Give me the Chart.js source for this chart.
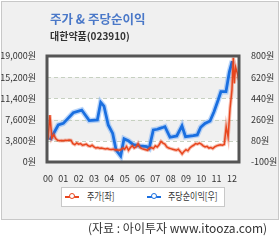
<!DOCTYPE html>
<html><head><meta charset="utf-8">
<script src="https://cdn.jsdelivr.net/npm/chart.js@4"></script>
<style>
body{margin:0;width:280px;height:242px;background:#fff;position:relative;overflow:hidden;font-family:"Noto Sans CJK KR","Noto Sans",sans-serif}
#panel{position:absolute;left:1px;top:1px;width:276px;height:217px;background:#f0f0f0;border:1px solid #c8c8c8}
canvas{position:absolute;left:0;top:0}
.t{position:absolute;white-space:nowrap;line-height:1}
#legend{position:absolute;left:61px;top:187px;width:162px;height:18px;background:#fff;border:1px solid #c8c8c8}
.li{position:absolute;top:3px;font-size:10px;color:#333;line-height:1;white-space:nowrap;transform:scaleX(0.8);transform-origin:0 0}
.ic{position:absolute;top:8px;width:14px;height:2px}
.ic i{position:absolute;left:4px;top:-3px;width:4px;height:4px;border-radius:50%;background:#fff;border:1.5px solid}
</style></head><body>
<div id="panel"></div>
<canvas id="c" width="280" height="242"></canvas>
<div class="t" style="left:50px;top:13px;font-size:12.5px;font-weight:bold;color:#4a78c8">주가 &amp; 주당순이익</div>
<div class="t" style="left:50px;top:31px;font-size:10px;font-weight:bold;color:#333">대한약품(023910)</div>
<div id="legend">
  <div class="ic" style="left:3px;background:#e8461e"><i style="border-color:#e8461e"></i></div>
  <div class="li" style="left:25px">주가[좌]</div>
  <div class="ic" style="left:85px;background:#1a6fe0"><i style="border-color:#1a6fe0"></i></div>
  <div class="li" style="left:106px">주당순이익[우]</div>
</div>
<div class="t" style="left:88px;top:222px;font-size:12px;color:#333">(자료 : 아이투자 www.itooza.com)</div>
<script>
// years since 2000
const xTickLabels = ["00","01","02","03","04","05","06","07","08","09","10","11","12"];
const priceT = [0,0.125,0.25,0.375,0.5,0.625,0.75,0.875,1,1.125,1.25,1.375,1.5,1.625,1.75,1.875,
2,2.125,2.25,2.375,2.5,2.625,2.75,2.875,3,3.125,3.25,3.375,3.5,3.625,3.75,3.875,
4,4.125,4.25,4.375,4.5,4.625,4.75,4.875,5,5.125,5.25,5.375,5.5,5.625,5.75,5.875,
6,6.125,6.25,6.375,6.5,6.625,6.75,6.875,7,7.125,7.25,7.375,7.5,7.625,7.75,7.875,
8,8.125,8.25,8.375,8.5,8.625,8.75,8.875,9,9.125,9.25,9.375,9.5,9.625,9.75,9.875,
10,10.125,10.25,10.375,10.5,10.625,10.75,10.875,11,11.125,11.25,11.375,11.5,11.625,11.75,11.875,
12,12.09,12.15,12.24,12.35,12.45];
const priceValues = [4000,8400,4300,4900,4200,3900,3800,3850,3800,3900,3850,3950,3900,3300,3100,3400,
3200,3300,3000,3100,3200,2900,2800,3000,2700,2500,2600,2450,2500,2400,2350,2400,
2300,2250,2300,2150,2200,2100,2200,2500,2300,2800,2100,2600,2900,2500,2700,3300,
2600,2400,2300,2200,2100,2500,2600,2400,2900,2700,3100,3700,3400,3200,2700,2500,
2400,2300,2200,2100,2300,1900,1450,1900,2200,2000,2500,2800,3000,3300,3200,3400,
3200,2900,2700,2800,2500,2600,2400,2700,2900,3000,3100,3000,3150,6300,4500,9600,
12900,18700,14100,17000,15900,14700];
const epsT = [0.13,0.67,1.0,1.65,2.2,2.69,3.22,3.44,3.65,3.93,4.22,4.44,4.74,4.96,5.24,5.56,6.0,6.44,6.6,6.87,7.13,7.3,7.52,7.63,7.96,8.4,8.74,8.97,9.48,9.74,9.96,10.24,10.57,10.83,11.1,11.28,11.61,11.83,12.02];
const epsValues = [87,214,228,318,341,251,257,407,375,214,143,2,-49,98,81,47,36,30,16,172,178,186,195,200,110,121,206,115,124,130,195,228,248,327,426,497,497,663,757];
const leftTicks = [0,3800,7600,11400,15200,19000];
const rightTicks = [-100,80,260,440,620,800];

const pricePts = priceT.map((t,i)=>({x:t,y:priceValues[i]}));
const epsPts = epsT.map((t,i)=>({x:t,y:epsValues[i]}));

const frame = {
  id:'frame',
  beforeDatasetsDraw(ch){
    const {ctx, chartArea:a, scales} = ch; const y = scales.y;
    ctx.save();
    ctx.fillStyle='#fff'; ctx.fillRect(a.left,a.top,a.right-a.left,a.bottom-a.top);
    ctx.fillStyle='#f0f0f0';
    [[3800,7600],[11400,15200]].forEach(([lo,hi])=>{
      const y1=y.getPixelForValue(hi), y2=y.getPixelForValue(lo);
      ctx.fillRect(a.left,y1,a.right-a.left,y2-y1);
    });
    ctx.strokeStyle='#c6d0c0'; ctx.lineWidth=1; ctx.setLineDash([4,3]);
    leftTicks.slice(1,-1).forEach(v=>{
      const py=Math.round(y.getPixelForValue(v))+0.5;
      ctx.beginPath(); ctx.moveTo(a.left,py); ctx.lineTo(a.right,py); ctx.stroke();
    });
    ctx.restore();
  },
  afterDatasetsDraw(ch){
    const {ctx, chartArea:a} = ch;
    ctx.save(); ctx.strokeStyle='#555'; ctx.lineWidth=3;
    ctx.strokeRect(a.left,a.top,a.right-a.left,a.bottom-a.top);
    ctx.restore();
  }
};

const tickFont = {family:'"Noto Sans CJK KR"',size:9};
new Chart(document.getElementById('c'),{
  type:'line',
  data:{datasets:[
    {data:pricePts,yAxisID:'y',borderColor:'rgba(232,70,30,0.35)',borderWidth:3.5,pointRadius:0,tension:0,order:2},
    {data:pricePts,yAxisID:'y',borderColor:'#e8461e',borderWidth:1.5,pointRadius:0,tension:0,order:1},
    {data:epsPts,yAxisID:'y1',borderColor:'rgba(140,185,245,0.6)',borderWidth:5.5,pointRadius:0,tension:0,order:4},
    {data:epsPts,yAxisID:'y1',borderColor:'#1a6fe0',borderWidth:2.8,pointRadius:0,tension:0,order:3}
  ]},
  options:{
    responsive:false,animation:false,
    layout:{padding:{left:0,right:0,top:56,bottom:60}},
    plugins:{legend:{display:false},tooltip:{enabled:false}},
    scales:{
      x:{type:'linear',min:-0.065,max:12.46,
        afterBuildTicks:s=>{s.ticks=xTickLabels.map((l,i)=>({value:i}));},
        afterFit:s=>{s.height=20;},
        grid:{display:false},border:{display:false},
        ticks:{color:'#333',font:tickFont,padding:3,maxRotation:0,autoSkip:false,
          callback:(v,i)=>xTickLabels[i]}},
      y:{position:'left',min:0,max:19000,
        afterBuildTicks:s=>{s.ticks=leftTicks.map(v=>({value:v}));},
        afterFit:s=>{s.width=47;},
        grid:{display:false},border:{display:false},
        ticks:{color:'#333',font:tickFont,padding:3,
          callback:v=>v.toLocaleString('en-US')+'원'}},
      y1:{position:'right',min:-100,max:800,
        afterBuildTicks:s=>{s.ticks=rightTicks.map(v=>({value:v}));},
        afterFit:s=>{s.width=41;},
        grid:{display:false},border:{display:false},
        ticks:{color:'#333',font:tickFont,padding:4,
          callback:v=>v+'원'}}
    }
  },
  plugins:[frame]
});
</script>
</body></html>
